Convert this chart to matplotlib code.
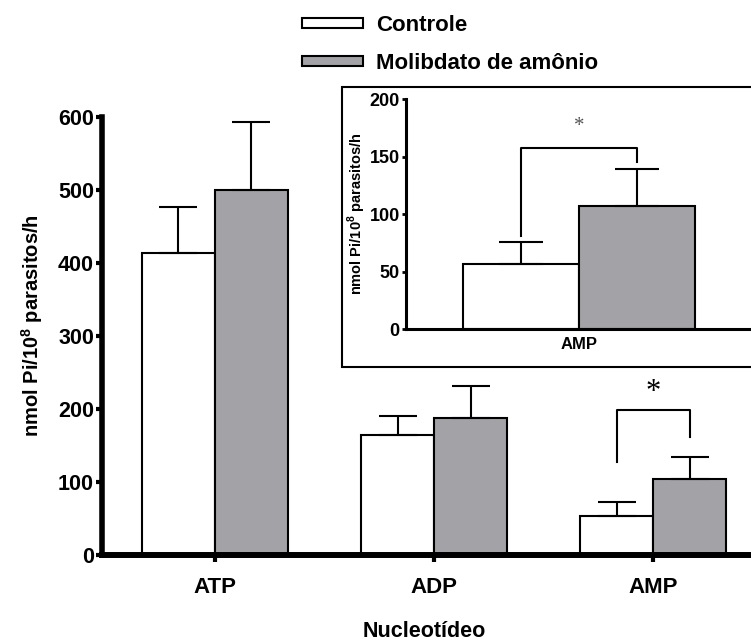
import numpy as np
import matplotlib
matplotlib.use("Agg")
import matplotlib.pyplot as plt
from matplotlib.patches import Rectangle

plt.rcParams['font.family'] = ['Liberation Sans', 'DejaVu Sans']
plt.rcParams['font.weight'] = 'bold'
plt.rcParams['mathtext.fontset'] = 'custom'
plt.rcParams['mathtext.rm'] = 'Liberation Sans:bold'
plt.rcParams['mathtext.bf'] = 'Liberation Sans:bold'

# data
categories = ['ATP', 'ADP', 'AMP']
controle = [414, 164, 54]
controle_err = [63, 27, 19]
molibdato = [500, 188, 104]
molibdato_err = [93, 44, 31]

inset_cat = 'AMP'
inset_controle = 57
inset_controle_err = 19
inset_molibdato = 107
inset_molibdato_err = 32

gray = '#a3a2a7'
ylabel = 'nmol Pi/10$^{8}$ parasitos/h'

fig = plt.figure(figsize=(7.51, 6.41), dpi=100)
ax = fig.add_axes([0.1362, 0.1342, 1 - 0.1362, 0.6828])

x = np.arange(len(categories))
w = 0.333
ekw = dict(elinewidth=1.5, capthick=1.5, ecolor='black')
b1 = ax.bar(x - w / 2, controle, w, color='white', edgecolor='black', linewidth=1.5,
            yerr=[np.zeros(3), controle_err], capsize=13.5, error_kw=ekw, label='Controle')
b2 = ax.bar(x + w / 2, molibdato, w, color=gray, edgecolor='black', linewidth=1.5,
            yerr=[np.zeros(3), molibdato_err], capsize=13.5, error_kw=ekw, label='Molibdato de amônio')

ax.set_xlim(-0.514, 2.445)
ax.set_ylim(0, 600)
ax.set_yticks(np.arange(0, 601, 100))
ax.set_xticks(x)
ax.set_xticklabels(categories)
for s in ['top', 'right']:
    ax.spines[s].set_visible(False)
ax.spines['left'].set_linewidth(4)
ax.spines['bottom'].set_linewidth(4.3)
ax.tick_params(axis='y', length=4, width=3, pad=2, labelsize=15.5)
ax.tick_params(axis='x', length=5, width=3, pad=11, labelsize=16)
ax.set_ylabel(ylabel, fontsize=14.5, fontweight='bold')
ax.yaxis.set_label_coords(-0.088, 0.525)
ax.set_xlabel('Nucleotídeo', fontsize=15.5, fontweight='bold')
ax.xaxis.set_label_coords(0.497, -0.151)

# significance bracket on AMP
xl, xr = x[2] - w / 2, x[2] + w / 2
ax.plot([xl, xl, xr, xr], [127, 199, 199, 162], color='black', lw=1.5)
ax.text(x[2], 213, '*', family='Liberation Serif', fontsize=22, fontweight='normal',
        ha='center', va='baseline')

fig.legend(handles=[b1, b2], loc='upper left', bbox_to_anchor=(0.402, 0.977),
           frameon=False, fontsize=16, handlelength=2.75, handleheight=0.33,
           handletextpad=0.6, labelspacing=0.77, borderpad=0, borderaxespad=0)

# inset
box = Rectangle((0.4558, 0.427), 0.7, 0.4377, transform=fig.transFigure,
                facecolor='white', edgecolor='black', linewidth=1.5, zorder=1.5)
fig.add_artist(box)

ins = fig.add_axes([0.5406, 0.4867, 1 - 0.5406, 0.3584])
ins.set_zorder(2)
ins.patch.set_alpha(0)
ins.bar([-0.5], [inset_controle], 1, color='white', edgecolor='black', linewidth=1.5,
        yerr=[[0], [inset_controle_err]], capsize=16, error_kw=ekw)
ins.bar([0.5], [inset_molibdato], 1, color=gray, edgecolor='black', linewidth=1.5,
        yerr=[[0], [inset_molibdato_err]], capsize=16, error_kw=ekw)
ins.plot([-0.5, -0.5, 0.5, 0.5], [81, 157.5, 157.5, 145.7], color='black', lw=1.5)
ins.text(0, 172, '*', family='Liberation Serif', fontsize=15, fontweight='normal',
         color='#555555', ha='center', va='baseline')
ins.set_xlim(-1.494, 1.48)
ins.set_ylim(0, 200)
ins.set_yticks(np.arange(0, 201, 50))
ins.set_xticks([0])
ins.set_xticklabels([inset_cat])
for s in ['top', 'right']:
    ins.spines[s].set_visible(False)
ins.spines['left'].set_linewidth(2.2)
ins.spines['bottom'].set_linewidth(2.2)
ins.tick_params(axis='y', length=3, width=2, pad=1.5, labelsize=13)
ins.tick_params(axis='x', length=0, pad=6, labelsize=12)
ins.set_ylabel(ylabel, fontsize=10.5, fontweight='bold')
ins.yaxis.set_label_coords(-0.11, 0.5)

fig.savefig('out.png', dpi=100)
